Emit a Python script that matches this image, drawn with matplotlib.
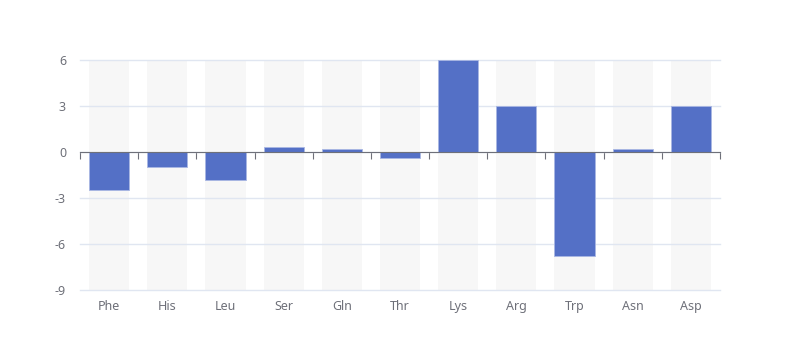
import matplotlib
matplotlib.use('Agg')
import matplotlib.pyplot as plt

# amino acids and their values
labels = ['Phe', 'His', 'Leu', 'Ser', 'Gln', 'Thr', 'Lys', 'Arg', 'Trp', 'Asn', 'Asp']
values = [-2.5, -1.0, -1.8, 0.3, 0.2, -0.4, 6.0, 3.0, -6.8, 0.2, 3.0]
y_ticks = [-9, -6, -3, 0, 3, 6]

plt.rcParams['font.family'] = ['Noto Sans', 'DejaVu Sans']

fig = plt.figure(figsize=(8, 3.6), dpi=100)
ax = fig.add_axes([0.1, 0.1944, 0.8, 0.6389])

x = list(range(len(labels)))
ymin, ymax = y_ticks[0], y_ticks[-1]

# background bars (under the grid lines)
ax.bar(x, [ymax - ymin] * len(x), bottom=ymin, width=0.69, color='#f7f7f7', zorder=0.2)
ax.bar(x, values, width=0.69, color='#5470c6', edgecolor='#a9b7e3', linewidth=0.6, zorder=3)

ax.set_xlim(-0.5, len(x) - 0.5)
ax.set_ylim(ymin, ymax)
ax.set_yticks(y_ticks)
ax.set_yticklabels([str(v) for v in y_ticks])
ax.yaxis.grid(True, color='#e0e6f1', linewidth=1)
for gl in ax.yaxis.get_gridlines():
    gl.set_clip_on(False)
ax.set_axisbelow(True)
ax.tick_params(axis='y', length=0, pad=10, labelsize=9, labelcolor='#6e7079')

for s in ['top', 'right', 'left']:
    ax.spines[s].set_visible(False)
ax.spines['bottom'].set_position(('data', 0))
ax.spines['bottom'].set_color('#6e7079')
ax.spines['bottom'].set_zorder(4)
ax.set_xticks([i - 0.5 for i in range(len(x) + 1)])
ax.tick_params(axis='x', length=5, color='#6e7079', labelbottom=False)

sec = ax.secondary_xaxis('bottom')
sec.set_xticks(x)
sec.set_xticklabels(labels)
sec.spines['bottom'].set_visible(False)
sec.tick_params(length=0, pad=7, labelsize=9, labelcolor='#6e7079')

fig.savefig('out.png', dpi=100)
